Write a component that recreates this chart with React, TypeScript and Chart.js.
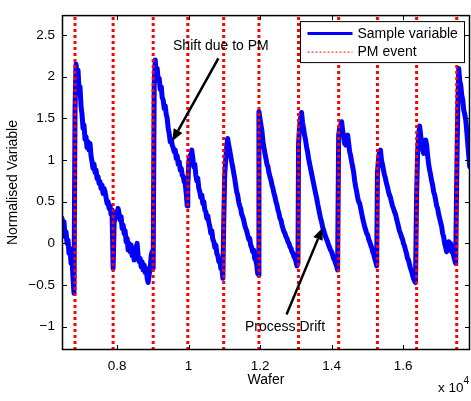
import React, { useEffect, useRef } from "react";
import { Chart, registerables } from "chart.js";

Chart.register(...registerables);

const FONT = '"Liberation Sans", Arial, Helvetica, sans-serif';

// Wafer number at which each preventive-maintenance (PM) event occurs
const pmEventWafers = [6822, 7888, 9009, 9977, 10980, 11967, 13075, 14197, 15282, 16378, 17500];
const firstWafer = 6458;
const sampleSpacing = 28; // wafers between plotted samples

// Sample variable, one array per run between PM events
const run0 = [0.30, 0.20, 0.26, 0.08, 0.14, 0.00, 0.04, -0.12, -0.06, -0.24, -0.18, -0.42, -0.60];
const run1 = [1.60, 2.15, 2.02, 2.08, 1.85, 1.88, 1.65, 1.55, 1.38, 1.42, 1.25, 1.28, 1.15, 1.22, 1.12, 1.20, 1.05, 0.98, 0.90, 0.95, 0.85, 0.88, 0.78, 0.80, 0.72, 0.74, 0.66, 0.70, 0.60, 0.66, 0.62, 0.55, 0.48, 0.50, 0.42, 0.45, 0.35, 0.40];
const run2 = [-0.30, 0.25, 0.30, 0.38, 0.33, 0.42, 0.35, 0.28, 0.32, 0.18, 0.22, 0.12, 0.15, 0.02, 0.06, -0.08, 0.00, -0.10, -0.02, -0.15, -0.08, -0.20, -0.12, -0.05, 0.00, -0.15, -0.22, -0.18, -0.28, -0.22, -0.32, -0.26, -0.35, -0.30, -0.42, -0.47, -0.38, -0.30, -0.15, -0.10];
const run3 = [-0.30, 1.90, 2.20, 2.05, 2.10, 1.95, 1.98, 1.85, 1.88, 1.75, 1.72, 1.62, 1.65, 1.55, 1.50, 1.38, 1.32, 1.22, 1.25, 1.18, 1.15, 1.10, 1.12, 1.02, 1.05, 0.95, 0.98, 0.88, 0.90, 0.82, 0.80, 0.74, 0.72, 0.60, 0.45];
const run4 = [0.70, 0.98, 1.05, 1.00, 1.12, 1.02, 0.92, 0.95, 0.82, 0.75, 0.78, 0.66, 0.62, 0.55, 0.58, 0.48, 0.50, 0.40, 0.38, 0.30, 0.33, 0.25, 0.20, 0.12, 0.15, 0.05, 0.02, -0.05, -0.02, -0.12, -0.15, -0.22, -0.20, -0.30, -0.28, -0.42];
const run5 = [0.20, 0.80, 1.00, 1.15, 1.26, 1.18, 1.12, 1.05, 0.98, 0.92, 0.85, 0.78, 0.70, 0.62, 0.58, 0.50, 0.45, 0.42, 0.35, 0.32, 0.28, 0.22, 0.18, 0.15, 0.10, 0.05, 0.06, -0.02, -0.05, -0.10, -0.08, -0.18, -0.20, -0.25, -0.36, -0.38];
const run6 = [1.58, 1.50, 1.42, 1.35, 1.22, 1.15, 1.08, 1.02, 0.95, 0.92, 0.85, 0.80, 0.76, 0.70, 0.66, 0.60, 0.56, 0.50, 0.46, 0.40, 0.36, 0.30, 0.28, 0.22, 0.18, 0.14, 0.12, 0.08, 0.06, 0.02, 0.00, -0.04, -0.06, -0.10, -0.12, -0.16, -0.18, -0.22, -0.27, -0.24];
const run7 = [1.20, 1.40, 1.50, 1.57, 1.45, 1.38, 1.30, 1.24, 1.16, 1.10, 1.02, 0.96, 0.90, 0.84, 0.78, 0.72, 0.66, 0.60, 0.55, 0.48, 0.42, 0.36, 0.30, 0.26, 0.20, 0.16, 0.12, 0.08, 0.05, 0.02, -0.02, -0.05, -0.08, -0.10, -0.14, -0.18, -0.20, -0.24, -0.27, -0.32];
const run8 = [1.30, 1.38, 1.42, 1.46, 1.35, 1.28, 1.20, 1.18, 1.28, 1.30, 1.20, 1.10, 1.05, 0.98, 0.92, 0.85, 0.75, 0.68, 0.62, 0.55, 0.50, 0.48, 0.42, 0.36, 0.30, 0.25, 0.20, 0.16, 0.12, 0.10, 0.05, 0.02, -0.02, -0.05, -0.10, -0.13, -0.18, -0.22, -0.27];
const run9 = [0.85, 1.00, 1.10, 1.12, 1.00, 0.95, 0.88, 0.82, 0.78, 0.72, 0.68, 0.62, 0.58, 0.55, 0.50, 0.45, 0.42, 0.38, 0.35, 0.30, 0.25, 0.20, 0.15, 0.12, 0.08, 0.05, 0.00, -0.03, -0.08, -0.12, -0.18, -0.20, -0.25, -0.30, -0.33, -0.38, -0.42, -0.45, -0.47];
const run10 = [0.60, 1.10, 1.30, 1.41, 1.30, 1.20, 1.12, 1.08, 1.15, 1.24, 1.18, 1.05, 0.95, 0.88, 0.82, 0.75, 0.70, 0.62, 0.58, 0.52, 0.45, 0.42, 0.35, 0.30, 0.25, 0.20, 0.12, 0.08, 0.00, -0.05, -0.10, -0.02, 0.02, -0.06, 0.00, -0.10, -0.08, -0.15, -0.20, -0.24];
const run11 = [0.80, 1.60, 2.10, 1.95, 1.90, 1.78, 1.72, 1.60, 1.55, 1.48, 1.35, 1.20, 1.05, 0.92];

const runs = [run0, run1, run2, run3, run4, run5, run6, run7, run8, run9, run10, run11];
const runStartWafers = [firstWafer, ...pmEventWafers];

const xLimits = [6458, 17871];
const yLimits = [-1.28, 2.74];
const xTickValues = [8000, 10000, 12000, 14000, 16000];
const yTickValues = [-1, -0.5, 0, 0.5, 1, 1.5, 2, 2.5];

const seriesLabels = ["Sample variable", "PM event"];
const xTitle = "Wafer";
const yTitle = "Normalised Variable";

const annotations = [
  { text: "Shift due to PM", textAt: [10902, 2.37], from: [10832, 2.22], to: [9542, 1.227] },
  { text: "Process Drift", textAt: [12696, -1.003], from: [12739, -0.853], to: [13748, 0.187] },
];

function buildSamplePoints() {
  const pts: { x: number; y: number }[] = [];
  runs.forEach((run, k) => {
    run.forEach((v, i) => pts.push({ x: runStartWafers[k] + i * sampleSpacing, y: v }));
  });
  return pts;
}

function buildPmPoints() {
  const pts: { x: number; y: number | null }[] = [];
  pmEventWafers.forEach((w) => {
    pts.push({ x: w, y: yLimits[0] });
    pts.push({ x: w, y: yLimits[1] });
    pts.push({ x: w, y: null });
  });
  return pts;
}

const overlayPlugin = {
  id: "overlay",
  afterDraw(chart: any) {
    const { ctx, chartArea: a, scales } = chart;
    const xs = scales.x;
    const ys = scales.y;
    ctx.save();

    // axes box
    ctx.strokeStyle = "#000";
    ctx.lineWidth = 1.5;
    ctx.strokeRect(a.left + 0.5, a.top + 0.5, a.right - a.left - 1, a.bottom - a.top - 1);

    // inward ticks
    ctx.lineWidth = 1;
    ctx.beginPath();
    xTickValues.forEach((v) => {
      const px = Math.round(xs.getPixelForValue(v)) + 0.5;
      ctx.moveTo(px, a.bottom);
      ctx.lineTo(px, a.bottom - 5);
      ctx.moveTo(px, a.top);
      ctx.lineTo(px, a.top + 5);
    });
    yTickValues.forEach((v) => {
      const py = Math.round(ys.getPixelForValue(v)) + 0.5;
      ctx.moveTo(a.left, py);
      ctx.lineTo(a.left + 5, py);
      ctx.moveTo(a.right, py);
      ctx.lineTo(a.right - 5, py);
    });
    ctx.stroke();

    // annotations
    ctx.fillStyle = "#000";
    ctx.font = `14px ${FONT}`;
    ctx.textAlign = "center";
    ctx.textBaseline = "middle";
    annotations.forEach((an) => {
      ctx.fillText(an.text, xs.getPixelForValue(an.textAt[0]), ys.getPixelForValue(an.textAt[1]));
      const x1 = xs.getPixelForValue(an.from[0]);
      const y1 = ys.getPixelForValue(an.from[1]);
      const x2 = xs.getPixelForValue(an.to[0]);
      const y2 = ys.getPixelForValue(an.to[1]);
      const ang = Math.atan2(y2 - y1, x2 - x1);
      const headLen = 12;
      const headHalf = 5;
      const bx = x2 - headLen * Math.cos(ang);
      const by = y2 - headLen * Math.sin(ang);
      ctx.strokeStyle = "#000";
      ctx.lineWidth = 2.5;
      ctx.beginPath();
      ctx.moveTo(x1, y1);
      ctx.lineTo(bx, by);
      ctx.stroke();
      ctx.beginPath();
      ctx.moveTo(x2, y2);
      ctx.lineTo(bx + headHalf * Math.sin(ang), by - headHalf * Math.cos(ang));
      ctx.lineTo(bx - headHalf * Math.sin(ang), by + headHalf * Math.cos(ang));
      ctx.closePath();
      ctx.fill();
    });

    // legend box
    const lx = a.right - 169.5;
    const ly = a.top + 6.5;
    const lw = 164;
    const lh = 41;
    ctx.fillStyle = "#fff";
    ctx.fillRect(lx, ly, lw, lh);
    ctx.strokeStyle = "#000";
    ctx.lineWidth = 1;
    ctx.strokeRect(lx, ly, lw, lh);
    ctx.strokeStyle = "#0000ff";
    ctx.lineWidth = 3;
    ctx.beginPath();
    ctx.moveTo(lx + 7, ly + 12);
    ctx.lineTo(lx + 52, ly + 12);
    ctx.stroke();
    ctx.strokeStyle = "#ff0000";
    ctx.lineWidth = 1;
    ctx.setLineDash([2, 2]);
    ctx.beginPath();
    ctx.moveTo(lx + 7, ly + 30.5);
    ctx.lineTo(lx + 52, ly + 30.5);
    ctx.stroke();
    ctx.setLineDash([]);
    ctx.fillStyle = "#000";
    ctx.font = `14px ${FONT}`;
    ctx.textAlign = "left";
    ctx.textBaseline = "middle";
    ctx.fillText(seriesLabels[0], lx + 57, ly + 12.5);
    ctx.fillText(seriesLabels[1], lx + 57, ly + 31);

    // axis titles
    ctx.textAlign = "center";
    ctx.fillText(xTitle, (a.left + a.right) / 2, a.bottom + 30);
    ctx.save();
    ctx.translate(13, (a.top + a.bottom) / 2);
    ctx.rotate(-Math.PI / 2);
    ctx.fillText(yTitle, 0, 0);
    ctx.restore();

    // exponent label
    ctx.textAlign = "left";
    ctx.font = `13.5px ${FONT}`;
    ctx.fillText("x 10", a.right - 32, a.bottom + 38);
    ctx.font = `10px ${FONT}`;
    ctx.fillText("4", a.right - 6.5, a.bottom + 31);

    ctx.restore();
  },
};

export default function App() {
  const canvasRef = useRef<HTMLCanvasElement | null>(null);

  useEffect(() => {
    if (!canvasRef.current) return;
    const chart = new Chart(canvasRef.current, {
      type: "line",
      data: {
        datasets: [
          {
            label: seriesLabels[0],
            data: buildSamplePoints(),
            borderColor: "#0000ff",
            borderWidth: 5,
            pointRadius: 0,
            tension: 0,
            borderJoinStyle: "round",
            borderCapStyle: "round",
            order: 2,
          },
          {
            label: seriesLabels[1],
            data: buildPmPoints(),
            borderColor: "#ff0000",
            borderWidth: 3,
            borderDash: [3, 3],
            pointRadius: 0,
            tension: 0,
            spanGaps: false,
            order: 1,
          },
        ],
      } as any,
      options: {
        animation: false,
        responsive: false,
        events: [],
        layout: { padding: { top: 2, right: 1, left: 0, bottom: 0 } },
        plugins: { legend: { display: false }, tooltip: { enabled: false } },
        scales: {
          x: {
            type: "linear",
            min: xLimits[0],
            max: xLimits[1],
            grid: { display: false, drawTicks: false },
            border: { display: false },
            afterBuildTicks: (s: any) => {
              s.ticks = xTickValues.map((v) => ({ value: v }));
            },
            afterFit: (s: any) => {
              s.height = 51;
            },
            ticks: {
              autoSkip: false,
              maxRotation: 0,
              padding: 8,
              color: "#000",
              font: { family: FONT, size: 13.5 },
              callback: (v: any) => String(Number(v) / 10000),
            },
          },
          y: {
            type: "linear",
            min: yLimits[0],
            max: yLimits[1],
            grid: { display: false, drawTicks: false },
            border: { display: false },
            afterBuildTicks: (s: any) => {
              s.ticks = yTickValues.map((v) => ({ value: v }));
            },
            afterFit: (s: any) => {
              s.width = 62;
            },
            ticks: {
              autoSkip: false,
              padding: 7,
              color: "#000",
              font: { family: FONT, size: 13.5 },
              callback: (v: any) => String(v).replace("-", "\u2212"),
            },
          },
        },
      } as any,
      plugins: [overlayPlugin],
    });
    return () => chart.destroy();
  }, []);

  return (
    <div style={{ position: "fixed", left: 0, top: 0, width: 471, height: 401, background: "#fff" }}>
      <canvas ref={canvasRef} width={471} height={401} style={{ display: "block" }} />
    </div>
  );
}
